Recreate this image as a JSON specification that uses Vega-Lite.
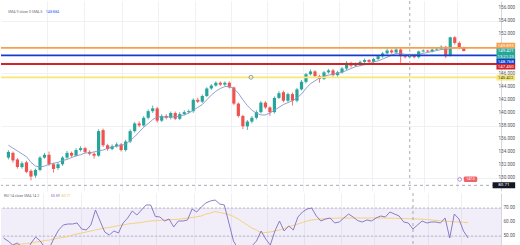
{
"$schema": "https://vega.github.io/schema/vega-lite/v6.json",
"padding": 0,
"spacing": 0,
"background": "#ffffff",
"config": {
  "view": {"stroke": null},
  "font": "Roboto",
  "axis": {"gridColor": "#eceef3", "gridWidth": 0.8, "title": null, "ticks": false, "labels": false, "domainColor": "#d6d8de", "minExtent": 0}
},
"datasets": {
  "candles": [
    {"i":0,"o":133.18,"h":134.3,"l":132.9,"c":134.05,"sma":135.06,"rsi":48.57,"rsma":42.86},
    {"i":1,"o":133.90,"h":134.1,"l":132.4,"c":132.75,"sma":134.62,"rsi":46.43,"rsma":43.21},
    {"i":2,"o":132.89,"h":133.1,"l":131.5,"c":131.73,"sma":134.19,"rsi":43.57,"rsma":43.57},
    {"i":3,"o":131.73,"h":132.6,"l":131.5,"c":132.31,"sma":133.76,"rsi":45.0,"rsma":43.93},
    {"i":4,"o":132.46,"h":132.7,"l":130.8,"c":131.01,"sma":133.32,"rsi":42.14,"rsma":44.29},
    {"i":5,"o":131.16,"h":131.4,"l":129.71,"c":130.29,"sma":132.46,"rsi":38.57,"rsma":44.64},
    {"i":6,"o":130.43,"h":131.5,"l":130.1,"c":131.30,"sma":131.88,"rsi":45.0,"rsma":45.0},
    {"i":7,"o":131.30,"h":133.4,"l":131.1,"c":133.18,"sma":131.73,"rsi":49.29,"rsma":45.71},
    {"i":8,"o":133.18,"h":133.9,"l":133.0,"c":133.61,"sma":131.88,"rsi":46.43,"rsma":46.07},
    {"i":9,"o":133.61,"h":134.1,"l":131.9,"c":132.17,"sma":132.17,"rsi":41.43,"rsma":46.79},
    {"i":10,"o":132.17,"h":132.4,"l":130.9,"c":131.45,"sma":132.31,"rsi":41.43,"rsma":47.14},
    {"i":11,"o":131.59,"h":132.4,"l":131.3,"c":132.17,"sma":132.46,"rsi":48.57,"rsma":47.86},
    {"i":12,"o":132.17,"h":133.4,"l":131.9,"c":133.18,"sma":132.75,"rsi":54.29,"rsma":48.57},
    {"i":13,"o":133.18,"h":134.2,"l":133.0,"c":133.90,"sma":132.89,"rsi":57.86,"rsma":48.93},
    {"i":14,"o":133.90,"h":134.1,"l":133.2,"c":133.47,"sma":133.18,"rsi":58.57,"rsma":49.64},
    {"i":15,"o":133.47,"h":134.6,"l":133.3,"c":134.33,"sma":133.47,"rsi":58.57,"rsma":50.71},
    {"i":16,"o":134.33,"h":134.9,"l":134.1,"c":134.62,"sma":133.61,"rsi":59.29,"rsma":51.43},
    {"i":17,"o":134.62,"h":134.8,"l":133.8,"c":134.05,"sma":133.90,"rsi":55.0,"rsma":52.14},
    {"i":18,"o":134.05,"h":134.3,"l":133.5,"c":133.76,"sma":133.90,"rsi":54.29,"rsma":52.86},
    {"i":19,"o":133.76,"h":134.0,"l":133.03,"c":133.47,"sma":134.05,"rsi":57.86,"rsma":53.57},
    {"i":20,"o":133.47,"h":137.5,"l":133.3,"c":137.22,"sma":134.19,"rsi":68.57,"rsma":54.29},
    {"i":21,"o":137.37,"h":137.6,"l":134.8,"c":135.06,"sma":134.33,"rsi":60.71,"rsma":55.0},
    {"i":22,"o":135.06,"h":135.3,"l":134.2,"c":134.48,"sma":134.62,"rsi":52.86,"rsma":55.71},
    {"i":23,"o":134.48,"h":135.2,"l":134.3,"c":134.91,"sma":134.77,"rsi":50.71,"rsma":56.07},
    {"i":24,"o":134.91,"h":135.5,"l":134.7,"c":135.20,"sma":134.91,"rsi":53.57,"rsma":56.79},
    {"i":25,"o":135.20,"h":135.4,"l":134.1,"c":134.33,"sma":135.06,"rsi":52.14,"rsma":57.5},
    {"i":26,"o":134.33,"h":135.9,"l":134.1,"c":135.63,"sma":135.20,"rsi":59.29,"rsma":57.86},
    {"i":27,"o":135.63,"h":137.5,"l":135.4,"c":137.22,"sma":135.78,"rsi":62.86,"rsma":58.57},
    {"i":28,"o":137.22,"h":138.6,"l":137.0,"c":138.38,"sma":136.36,"rsi":67.86,"rsma":58.93},
    {"i":29,"o":138.38,"h":138.7,"l":137.8,"c":138.09,"sma":137.08,"rsi":65.0,"rsma":59.29},
    {"i":30,"o":138.09,"h":139.5,"l":137.9,"c":139.25,"sma":137.80,"rsi":68.57,"rsma":59.64},
    {"i":31,"o":139.25,"h":140.5,"l":139.0,"c":140.26,"sma":138.38,"rsi":72.14,"rsma":60.36},
    {"i":32,"o":140.26,"h":141.12,"l":140.0,"c":140.69,"sma":138.96,"rsi":72.14,"rsma":60.71},
    {"i":33,"o":140.69,"h":140.9,"l":138.5,"c":138.81,"sma":139.39,"rsi":64.0,"rsma":60.93},
    {"i":34,"o":138.81,"h":139.8,"l":138.6,"c":139.53,"sma":139.39,"rsi":63.57,"rsma":61.14},
    {"i":35,"o":139.53,"h":139.8,"l":139.0,"c":139.25,"sma":139.39,"rsi":60.71,"rsma":61.43},
    {"i":36,"o":139.25,"h":140.2,"l":139.0,"c":139.97,"sma":139.39,"rsi":62.14,"rsma":61.57},
    {"i":37,"o":139.97,"h":140.2,"l":138.9,"c":139.10,"sma":139.39,"rsi":56.43,"rsma":61.79},
    {"i":38,"o":139.10,"h":140.1,"l":138.9,"c":139.82,"sma":139.53,"rsi":60.71,"rsma":62.0},
    {"i":39,"o":139.82,"h":140.4,"l":139.6,"c":140.11,"sma":139.68,"rsi":60.71,"rsma":62.36},
    {"i":40,"o":140.11,"h":140.5,"l":139.9,"c":140.26,"sma":139.97,"rsi":61.43,"rsma":62.86},
    {"i":41,"o":140.26,"h":142.2,"l":140.0,"c":141.99,"sma":140.40,"rsi":69.29,"rsma":63.21},
    {"i":42,"o":141.99,"h":142.3,"l":141.5,"c":141.70,"sma":140.83,"rsi":67.14,"rsma":63.79},
    {"i":43,"o":141.70,"h":142.8,"l":141.5,"c":142.57,"sma":141.27,"rsi":70.71,"rsma":64.29},
    {"i":44,"o":142.57,"h":143.9,"l":142.4,"c":143.72,"sma":141.99,"rsi":73.57,"rsma":65.71},
    {"i":45,"o":143.72,"h":144.4,"l":143.5,"c":144.16,"sma":142.71,"rsi":75.0,"rsma":66.43},
    {"i":46,"o":144.16,"h":144.8,"l":144.0,"c":144.59,"sma":143.29,"rsi":75.71,"rsma":67.5},
    {"i":47,"o":144.59,"h":144.8,"l":144.1,"c":144.30,"sma":143.72,"rsi":72.86,"rsma":66.79},
    {"i":48,"o":144.30,"h":144.8,"l":144.1,"c":144.59,"sma":144.01,"rsi":72.14,"rsma":66.07},
    {"i":49,"o":144.59,"h":144.8,"l":143.7,"c":143.87,"sma":144.01,"rsi":59.29,"rsma":65.36},
    {"i":50,"o":143.87,"h":144.0,"l":141.2,"c":141.41,"sma":143.72,"rsi":46.43,"rsma":63.93},
    {"i":51,"o":141.41,"h":141.6,"l":139.3,"c":139.53,"sma":143.00,"rsi":40.71,"rsma":62.14},
    {"i":52,"o":139.53,"h":139.7,"l":137.51,"c":137.95,"sma":141.99,"rsi":39.29,"rsma":60.0},
    {"i":53,"o":137.95,"h":138.9,"l":137.4,"c":138.67,"sma":141.12,"rsi":41.43,"rsma":57.86},
    {"i":54,"o":138.67,"h":139.5,"l":138.4,"c":139.25,"sma":140.40,"rsi":42.86,"rsma":55.71},
    {"i":55,"o":139.25,"h":140.4,"l":139.0,"c":140.11,"sma":139.97,"rsi":46.43,"rsma":54.29},
    {"i":56,"o":140.11,"h":141.8,"l":139.9,"c":141.56,"sma":139.68,"rsi":53.57,"rsma":52.14},
    {"i":57,"o":141.56,"h":141.8,"l":140.6,"c":140.83,"sma":139.68,"rsi":47.86,"rsma":52.5},
    {"i":58,"o":140.83,"h":141.0,"l":139.53,"c":140.11,"sma":139.97,"rsi":43.57,"rsma":52.86},
    {"i":59,"o":140.11,"h":142.5,"l":139.9,"c":142.28,"sma":140.40,"rsi":53.57,"rsma":53.57},
    {"i":60,"o":142.28,"h":143.3,"l":142.1,"c":143.00,"sma":140.83,"rsi":60.71,"rsma":54.29},
    {"i":61,"o":143.15,"h":143.4,"l":141.6,"c":141.85,"sma":141.27,"rsi":53.57,"rsma":55.36},
    {"i":62,"o":141.85,"h":143.1,"l":141.6,"c":142.86,"sma":141.56,"rsi":57.14,"rsma":56.79},
    {"i":63,"o":142.86,"h":143.1,"l":141.12,"c":141.85,"sma":141.85,"rsi":54.29,"rsma":57.5},
    {"i":64,"o":141.85,"h":143.8,"l":141.6,"c":143.58,"sma":142.28,"rsi":63.57,"rsma":58.57},
    {"i":65,"o":143.58,"h":145.0,"l":143.4,"c":144.73,"sma":142.86,"rsi":67.14,"rsma":59.64},
    {"i":66,"o":144.73,"h":146.1,"l":144.5,"c":145.89,"sma":143.72,"rsi":69.29,"rsma":60.71},
    {"i":67,"o":145.89,"h":146.6,"l":145.7,"c":146.32,"sma":144.45,"rsi":70.0,"rsma":61.43},
    {"i":68,"o":146.32,"h":146.5,"l":145.4,"c":145.60,"sma":144.88,"rsi":64.29,"rsma":61.79},
    {"i":69,"o":145.60,"h":145.8,"l":144.6,"c":145.17,"sma":145.31,"rsi":60.71,"rsma":62.14},
    {"i":70,"o":145.17,"h":146.4,"l":145.0,"c":146.18,"sma":145.60,"rsi":62.14,"rsma":62.36},
    {"i":71,"o":146.18,"h":146.7,"l":146.0,"c":146.47,"sma":145.75,"rsi":62.86,"rsma":62.57},
    {"i":72,"o":146.47,"h":146.7,"l":145.5,"c":145.75,"sma":145.89,"rsi":59.29,"rsma":62.71},
    {"i":73,"o":145.75,"h":146.4,"l":145.5,"c":146.18,"sma":146.03,"rsi":60.0,"rsma":62.86},
    {"i":74,"o":146.18,"h":147.0,"l":146.0,"c":146.76,"sma":146.18,"rsi":62.86,"rsma":62.86},
    {"i":75,"o":146.76,"h":147.9,"l":146.5,"c":147.62,"sma":146.47,"rsi":65.71,"rsma":62.86},
    {"i":76,"o":147.62,"h":147.8,"l":146.9,"c":147.19,"sma":146.76,"rsi":63.57,"rsma":62.86},
    {"i":77,"o":147.19,"h":147.7,"l":147.0,"c":147.48,"sma":147.05,"rsi":61.0,"rsma":62.86},
    {"i":78,"o":147.33,"h":148.0,"l":147.1,"c":147.77,"sma":147.19,"rsi":60.0,"rsma":62.86},
    {"i":79,"o":147.77,"h":148.3,"l":147.6,"c":148.06,"sma":147.33,"rsi":61.43,"rsma":62.86},
    {"i":80,"o":148.06,"h":148.2,"l":147.5,"c":147.77,"sma":147.48,"rsi":60.71,"rsma":62.86},
    {"i":81,"o":147.77,"h":148.4,"l":147.6,"c":148.20,"sma":147.77,"rsi":62.86,"rsma":62.86},
    {"i":82,"o":148.20,"h":148.8,"l":148.0,"c":148.63,"sma":147.91,"rsi":64.29,"rsma":62.86},
    {"i":83,"o":148.63,"h":149.3,"l":148.4,"c":149.07,"sma":148.20,"rsi":63.57,"rsma":62.79},
    {"i":84,"o":149.07,"h":149.8,"l":148.9,"c":149.50,"sma":148.49,"rsi":67.14,"rsma":62.71},
    {"i":85,"o":149.50,"h":149.7,"l":149.0,"c":149.21,"sma":148.78,"rsi":65.71,"rsma":62.64},
    {"i":86,"o":149.21,"h":149.9,"l":149.0,"c":149.65,"sma":149.07,"rsi":64.29,"rsma":62.57},
    {"i":87,"o":149.65,"h":149.9,"l":147.62,"c":148.63,"sma":149.07,"rsi":60.0,"rsma":62.43},
    {"i":88,"o":148.63,"h":148.8,"l":148.3,"c":148.49,"sma":148.92,"rsi":59.29,"rsma":62.36},
    {"i":89,"o":148.49,"h":149.0,"l":148.3,"c":148.78,"sma":148.92,"rsi":55.0,"rsma":62.21},
    {"i":90,"o":148.78,"h":148.9,"l":148.3,"c":148.49,"sma":148.92,"rsi":57.86,"rsma":62.14},
    {"i":91,"o":148.49,"h":149.5,"l":148.3,"c":149.36,"sma":148.92,"rsi":60.71,"rsma":62.0},
    {"i":92,"o":149.36,"h":149.7,"l":149.2,"c":149.50,"sma":149.07,"rsi":59.29,"rsma":61.71},
    {"i":93,"o":149.50,"h":149.6,"l":149.2,"c":149.36,"sma":149.21,"rsi":60.0,"rsma":61.43},
    {"i":94,"o":149.36,"h":149.8,"l":149.2,"c":149.65,"sma":149.36,"rsi":60.0,"rsma":61.14},
    {"i":95,"o":149.65,"h":149.9,"l":149.5,"c":149.79,"sma":149.50,"rsi":59.29,"rsma":60.86},
    {"i":96,"o":149.79,"h":150.3,"l":149.6,"c":150.08,"sma":149.65,"rsi":62.86,"rsma":60.57},
    {"i":97,"o":150.08,"h":150.2,"l":148.35,"c":148.63,"sma":149.65,"rsi":48.57,"rsma":60.36},
    {"i":98,"o":148.78,"h":151.6,"l":148.6,"c":151.52,"sma":149.79,"rsi":65.71,"rsma":60.14},
    {"i":99,"o":151.52,"h":151.7,"l":150.4,"c":150.66,"sma":149.93,"rsi":62.14,"rsma":60.0},
    {"i":100,"o":150.66,"h":150.9,"l":149.7,"c":149.93,"sma":149.93,"rsi":53.57,"rsma":59.79},
    {"i":101,"o":149.93,"h":150.1,"l":149.4,"c":149.42,"sma":149.79,"rsi":48.57,"rsma":59.57}
  ],
  "levels": [
    {"name":"orange","price":149.893},
    {"name":"blue","price":148.768},
    {"name":"red","price":147.45},
    {"name":"yellow","price":145.422}
  ],
  "labels": [
    {"name":"orange","price":149.893,"text":"149.893"},
    {"name":"last","price":149.421,"text":"149.421"},
    {"name":"blue","price":148.768,"text":"148.768"},
    {"name":"red","price":147.45,"text":"147.450"},
    {"name":"yellow","price":145.422,"text":"145.422"}
  ],
  "priceTicks": [{"v":130},{"v":132},{"v":134},{"v":136},{"v":138},{"v":140},{"v":142},{"v":144},{"v":146},{"v":152},{"v":154},{"v":156}],
  "rsiTicks": [{"v":50},{"v":60},{"v":70}],
  "rsiLevels": [{"level":70},{"level":50},{"level":30}]
},
"vconcat": [
  {
    "width": 500,
    "height": 190,
    "layer": [
      {
        "data": {"name": "candles"},
        "mark": {"type": "rule", "strokeWidth": 0.8},
        "encoding": {
          "x": {"field": "i", "type": "quantitative", "scale": {"domain": [-0.54, 108.15], "nice": false, "zero": false},
                "axis": {"labels": false, "ticks": false, "domain": false, "grid": true, "title": null, "maxExtent": 0,
                         "values": [8.59, 16.85, 25.11, 33.15, 41.41, 49.46, 57.28, 65.33, 73.37, 80.54, 92.28, 99.46]}},
          "y": {"field": "l", "type": "quantitative", "scale": {"domain": [128.85, 156.29], "nice": false, "zero": false},
                "axis": {"orient": "right", "values": [130,132,134,136,138,140,142,144,146,148,150,152,154,156], "grid": true, "domain": true, "ticks": false, "labels": false, "title": null, "maxExtent": 0}},
          "y2": {"field": "h"},
          "color": {"condition": {"test": "datum.c >= datum.o", "value": "#26a69a"}, "value": "#ef5350"}
        }
      },
      {
        "data": {"name": "candles"},
        "mark": {"type": "bar", "orient": "vertical", "size": 3.2},
        "encoding": {
          "x": {"field": "i", "type": "quantitative"},
          "y": {"field": "o", "type": "quantitative"},
          "y2": {"field": "c"},
          "color": {"condition": {"test": "datum.c >= datum.o", "value": "#26a69a"}, "value": "#ef5350"}
        }
      },
      {
        "data": {"name": "candles"},
        "mark": {"type": "line", "color": "#8397c8", "strokeWidth": 0.9},
        "encoding": {
          "x": {"field": "i", "type": "quantitative"},
          "y": {"field": "sma", "type": "quantitative"}
        }
      },
      {
        "data": {"name": "levels"},
        "mark": {"type": "rule", "strokeWidth": 1.8},
        "encoding": {
          "y": {"field": "price", "type": "quantitative"},
          "color": {"field": "name", "type": "nominal", "legend": null,
                    "scale": {"domain": ["orange","last","blue","red","yellow"], "range": ["#f6a04d","#26a69a","#1a3ccc","#d1232a","#f5e873"]}}
        }
      },
      {
        "data": {"values": [{}]},
        "mark": {"type": "point", "shape": "circle", "filled": false, "color": "#5b6fa8", "size": 16, "strokeWidth": 0.9},
        "encoding": {"x": {"datum": 53.8}, "y": {"datum": 145.42}}
      },
      {
        "data": {"values": [{}]},
        "mark": {"type": "rule", "strokeDash": [3, 3], "color": "#9598a1", "strokeWidth": 0.8},
        "encoding": {"x": {"datum": 89.02}}
      },
      {
        "data": {"values": [{}]},
        "mark": {"type": "rule", "strokeDash": [3, 3], "color": "#9598a1", "strokeWidth": 0.8},
        "encoding": {"y": {"datum": 128.95}}
      },
      {
        "data": {"name": "priceTicks"},
        "mark": {"type": "text", "fontSize": 4.6, "color": "#50535e", "align": "left", "baseline": "middle"},
        "encoding": {"x": {"datum": 108.7}, "y": {"field": "v", "type": "quantitative"}, "text": {"field": "v", "type": "quantitative", "format": ".3f"}}
      },
      {
        "data": {"name": "labels"},
        "transform": [{"filter": "datum.name == 'orange'"}],
        "layer": [
          {"mark": {"type": "bar", "orient": "horizontal", "size": 5.6, "yOffset": -2.3},
           "encoding": {"x": {"datum": 108.25}, "x2": {"datum": 112.4}, "y": {"field": "price", "type": "quantitative"}, "color": {"field": "name", "type": "nominal", "legend": null}}},
          {"mark": {"type": "text", "fontSize": 4.4, "color": "#ffffff", "yOffset": -2.3},
           "encoding": {"x": {"datum": 110.3}, "y": {"field": "price", "type": "quantitative"}, "text": {"field": "text"}}}
        ]
      },
      {
        "data": {"name": "labels"},
        "transform": [{"filter": "datum.name == 'last'"}],
        "layer": [
          {"mark": {"type": "bar", "orient": "horizontal", "size": 11, "yOffset": 2.9},
           "encoding": {"x": {"datum": 108.25}, "x2": {"datum": 112.4}, "y": {"field": "price", "type": "quantitative"}, "color": {"field": "name", "type": "nominal", "legend": null}}},
          {"mark": {"type": "text", "fontSize": 4.4, "color": "#ffffff", "yOffset": 0.4},
           "encoding": {"x": {"datum": 110.3}, "y": {"field": "price", "type": "quantitative"}, "text": {"field": "text"}}},
          {"mark": {"type": "text", "fontSize": 4.2, "color": "#ffffff", "yOffset": 5.9},
           "encoding": {"x": {"datum": 110.3}, "y": {"field": "price", "type": "quantitative"}, "text": {"value": "13:21:23"}}}
        ]
      },
      {
        "data": {"name": "labels"},
        "transform": [{"filter": "datum.name == 'blue'"}],
        "layer": [
          {"mark": {"type": "bar", "orient": "horizontal", "size": 5.6, "yOffset": 6.4},
           "encoding": {"x": {"datum": 108.25}, "x2": {"datum": 112.4}, "y": {"field": "price", "type": "quantitative"}, "color": {"field": "name", "type": "nominal", "legend": null}}},
          {"mark": {"type": "text", "fontSize": 4.4, "color": "#ffffff", "yOffset": 6.4},
           "encoding": {"x": {"datum": 110.3}, "y": {"field": "price", "type": "quantitative"}, "text": {"field": "text"}}}
        ]
      },
      {
        "data": {"name": "labels"},
        "transform": [{"filter": "datum.name == 'red'"}],
        "layer": [
          {"mark": {"type": "bar", "orient": "horizontal", "size": 5.6, "yOffset": 2.8},
           "encoding": {"x": {"datum": 108.25}, "x2": {"datum": 112.4}, "y": {"field": "price", "type": "quantitative"}, "color": {"field": "name", "type": "nominal", "legend": null}}},
          {"mark": {"type": "text", "fontSize": 4.4, "color": "#ffffff", "yOffset": 2.8},
           "encoding": {"x": {"datum": 110.3}, "y": {"field": "price", "type": "quantitative"}, "text": {"field": "text"}}}
        ]
      },
      {
        "data": {"name": "labels"},
        "transform": [{"filter": "datum.name == 'yellow'"}],
        "layer": [
          {"mark": {"type": "bar", "orient": "horizontal", "size": 5.6, "yOffset": 0.5},
           "encoding": {"x": {"datum": 108.25}, "x2": {"datum": 112.4}, "y": {"field": "price", "type": "quantitative"}, "color": {"field": "name", "type": "nominal", "legend": null}}},
          {"mark": {"type": "text", "fontSize": 4.2, "color": "#333333", "yOffset": 0.5},
           "encoding": {"x": {"datum": 110.3}, "y": {"field": "price", "type": "quantitative"}, "text": {"field": "text"}}}
        ]
      },
      {
        "data": {"values": [{}]},
        "layer": [
          {"mark": {"type": "bar", "orient": "horizontal", "size": 6, "color": "#131722"},
           "encoding": {"x": {"datum": 107.4}, "x2": {"datum": 112.4}, "y": {"datum": 128.95}}},
          {"mark": {"type": "text", "fontSize": 4.4, "color": "#ffffff"},
           "encoding": {"x": {"datum": 109.9}, "y": {"datum": 128.95}, "text": {"value": "80.71"}}},
          {"mark": {"type": "point", "shape": "circle", "filled": false, "color": "#7e57c2", "size": 14, "strokeWidth": 0.9},
           "encoding": {"x": {"datum": 100.1}, "y": {"datum": 129.86}}},
          {"mark": {"type": "bar", "orient": "horizontal", "size": 5.5, "color": "#f0626a", "cornerRadius": 1.5},
           "encoding": {"x": {"datum": 101.0}, "x2": {"datum": 104.0}, "y": {"datum": 129.86}}},
          {"mark": {"type": "text", "fontSize": 3.4, "color": "#ffffff"},
           "encoding": {"x": {"datum": 102.5}, "y": {"datum": 129.86}, "text": {"value": "147.5"}}},
          {"mark": {"type": "text", "fontSize": 3.6, "color": "#6a6d78", "align": "left"},
           "encoding": {"x": {"datum": -0.1}, "y": {"datum": 155.42}, "text": {"value": "SMA 9 close 0 SMA 5"}}},
          {"mark": {"type": "text", "fontSize": 3.6, "color": "#2962ff", "align": "left"},
           "encoding": {"x": {"datum": 8.3}, "y": {"datum": 155.42}, "text": {"value": "148.884"}}}
        ]
      }
    ]
  },
  {
    "width": 500,
    "height": 55,
    "layer": [
      {
        "data": {"values": [{}]},
        "mark": {"type": "rect", "color": "#7e57c2", "opacity": 0.1, "clip": true},
        "encoding": {
          "x": {"datum": -0.54, "type": "quantitative", "scale": {"domain": [-0.54, 108.15], "nice": false, "zero": false},
                "axis": {"labels": false, "ticks": false, "domain": false, "grid": true, "title": null, "maxExtent": 0,
                         "values": [8.59, 16.85, 25.11, 33.15, 41.41, 49.46, 57.28, 65.33, 73.37, 80.54, 92.28, 99.46]}},
          "x2": {"datum": 108.15},
          "y": {"datum": 70, "type": "quantitative", "scale": {"domain": [41.43, 80.71], "nice": false, "zero": false},
                "axis": {"orient": "right", "values": [50, 60, 70], "grid": true, "domain": true, "ticks": false, "labels": false, "title": null, "maxExtent": 0}},
          "y2": {"datum": 30}
        }
      },
      {
        "data": {"name": "rsiLevels"},
        "mark": {"type": "rule", "strokeDash": [2, 2], "color": "#9598a1", "strokeWidth": 0.7, "opacity": 0.8, "clip": true},
        "encoding": {"y": {"field": "level", "type": "quantitative"}}
      },
      {
        "data": {"name": "candles"},
        "mark": {"type": "line", "color": "#f3d27e", "strokeWidth": 1, "clip": true},
        "encoding": {"x": {"field": "i", "type": "quantitative"}, "y": {"field": "rsma", "type": "quantitative"}}
      },
      {
        "data": {"name": "candles"},
        "mark": {"type": "line", "color": "#7e6fc0", "strokeWidth": 0.9, "clip": true},
        "encoding": {"x": {"field": "i", "type": "quantitative"}, "y": {"field": "rsi", "type": "quantitative"}}
      },
      {
        "data": {"values": [{}]},
        "mark": {"type": "rule", "strokeDash": [3, 3], "color": "#9598a1", "strokeWidth": 0.8},
        "encoding": {"x": {"datum": 89.02}}
      },
      {
        "data": {"name": "rsiTicks"},
        "mark": {"type": "text", "fontSize": 4.6, "color": "#50535e", "align": "left", "baseline": "middle"},
        "encoding": {"x": {"datum": 108.7}, "y": {"field": "v", "type": "quantitative"}, "text": {"field": "v", "type": "quantitative", "format": ".2f"}}
      },
      {
        "data": {"values": [{}]},
        "layer": [
          {"mark": {"type": "text", "fontSize": 3.5, "color": "#6a6d78", "align": "left"},
           "encoding": {"x": {"datum": 0.1}, "y": {"datum": 78.4}, "text": {"value": "RSI 14 close SMA 14 2"}}},
          {"mark": {"type": "text", "fontSize": 3.5, "color": "#7e57c2", "align": "left"},
           "encoding": {"x": {"datum": 10.3}, "y": {"datum": 78.4}, "text": {"value": "53.59"}}},
          {"mark": {"type": "text", "fontSize": 3.5, "color": "#e9b949", "align": "left"},
           "encoding": {"x": {"datum": 12.6}, "y": {"datum": 78.4}, "text": {"value": "60.71"}}}
        ]
      }
    ]
  }
]
}
